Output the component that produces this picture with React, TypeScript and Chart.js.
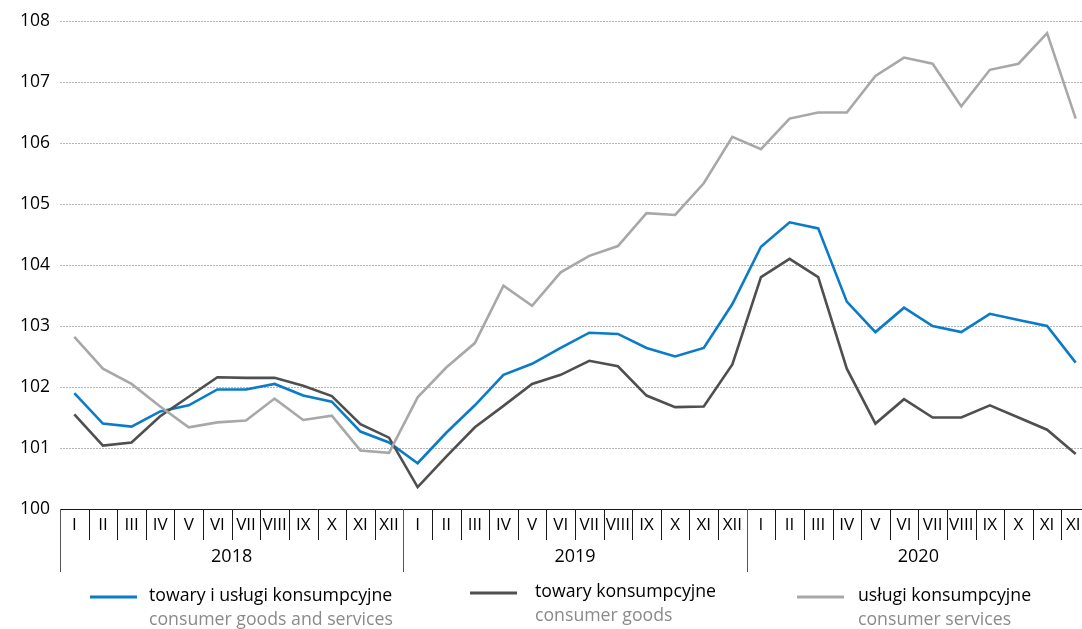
import React, { useEffect, useRef } from "react";
import { Chart, registerables } from "chart.js";

Chart.register(...registerables);

const months = ["I", "II", "III", "IV", "V", "VI", "VII", "VIII", "IX", "X", "XI", "XII"];
const years = ["2018", "2019", "2020"];
const categories = years.flatMap((y) => months.map((m) => `${m} ${y}`));

const goodsAndServices = [
  101.9, 101.4, 101.35, 101.6, 101.7, 101.96, 101.96, 102.05, 101.86, 101.76, 101.27, 101.09,
  100.75, 101.25, 101.7, 102.2, 102.38, 102.64, 102.89, 102.87, 102.64, 102.5, 102.64, 103.36,
  104.3, 104.7, 104.6, 103.4, 102.9, 103.3, 103.0, 102.9, 103.2, 103.1, 103.0, 102.4,
];
const goods = [
  101.55, 101.04, 101.09, 101.52, 101.84, 102.16, 102.15, 102.15, 102.02, 101.85, 101.39, 101.17,
  100.36, 100.86, 101.34, 101.69, 102.05, 102.2, 102.43, 102.34, 101.86, 101.67, 101.68, 102.37,
  103.8, 104.1, 103.8, 102.3, 101.4, 101.8, 101.5, 101.5, 101.7, 101.5, 101.3, 100.9,
];
const services = [
  102.82, 102.3, 102.05, 101.68, 101.34, 101.42, 101.45, 101.81, 101.46, 101.53, 100.96, 100.92,
  101.83, 102.32, 102.72, 103.66, 103.33, 103.88, 104.15, 104.31, 104.85, 104.82, 105.34, 106.1,
  105.9, 106.4, 106.5, 106.5, 107.1, 107.4, 107.3, 106.6, 107.2, 107.3, 107.8, 106.4,
];

const seriesLabelsPl = ["towary i usługi konsumpcyjne", "towary konsumpcyjne", "usługi konsumpcyjne"];
const seriesLabelsEn = ["consumer goods and services", "consumer goods", "consumer services"];
const seriesColors = ["#0a7bc8", "#4f4f4f", "#a8a8a8"];

const FONT = "'Open Sans', 'Noto Sans', sans-serif";

const axisPlugin = {
  id: "customAxis",
  afterDraw(chart: any) {
    const ctx = chart.ctx;
    const x = chart.scales.x;
    const ca = chart.chartArea;
    const n = categories.length;
    const w = x.getPixelForValue(1) - x.getPixelForValue(0);
    ctx.save();
    // axis line
    ctx.strokeStyle = "#1a1a1a";
    ctx.lineWidth = 1;
    ctx.beginPath();
    ctx.moveTo(ca.left, ca.bottom + 0.5);
    ctx.lineTo(ca.right, ca.bottom + 0.5);
    ctx.stroke();
    // separators
    for (let i = 0; i <= n; i++) {
      const bx = Math.round(x.getPixelForValue(Math.min(i, n - 1)) + (i === n ? w / 2 : -w / 2)) + 0.5;
      const len = i % 12 === 0 ? 63 : 31;
      ctx.strokeStyle = i % 12 === 0 ? "#555" : "#1a1a1a";
      ctx.beginPath();
      ctx.moveTo(bx, ca.bottom);
      ctx.lineTo(bx, ca.bottom + len);
      ctx.stroke();
    }
    // month labels
    ctx.fillStyle = "#000";
    ctx.font = `17px ${FONT}`;
    ctx.textAlign = "center";
    ctx.textBaseline = "middle";
    for (let i = 0; i < n; i++) {
      ctx.fillText(months[i % 12], x.getPixelForValue(i), ca.bottom + 16);
    }
    // year labels
    ctx.font = `18px ${FONT}`;
    years.forEach((yr, k) => {
      const start = x.getPixelForValue(k * 12) - w / 2;
      const end = x.getPixelForValue(k * 12 + 11) + w / 2;
      ctx.fillText(yr, (start + end) / 2, ca.bottom + 48);
    });
    // legend
    const entries = [
      { lx: 90, tx: 149, y: 597 },
      { lx: 470, tx: 535, y: 593 },
      { lx: 797, tx: 858, y: 597 },
    ];
    entries.forEach((e, k) => {
      ctx.strokeStyle = seriesColors[k];
      ctx.lineWidth = 3;
      ctx.beginPath();
      ctx.moveTo(e.lx, e.y);
      ctx.lineTo(e.lx + 47, e.y);
      ctx.stroke();
      ctx.textAlign = "left";
      ctx.fillStyle = "#000";
      ctx.font = `17.7px ${FONT}`;
      ctx.fillText(seriesLabelsPl[k], e.tx, e.y - 1);
      ctx.fillStyle = "#8a8a8a";
      ctx.fillText(seriesLabelsEn[k], e.tx, e.y + 23);
    });
    ctx.restore();
  },
};

export default function App() {
  const ref = useRef<HTMLCanvasElement | null>(null);
  useEffect(() => {
    if (!ref.current) return;
    const chart = new Chart(ref.current, {
      type: "line",
      data: {
        labels: categories,
        datasets: [
          { label: seriesLabelsPl[2], data: services, borderColor: seriesColors[2] },
          { label: seriesLabelsPl[1], data: goods, borderColor: seriesColors[1] },
          { label: seriesLabelsPl[0], data: goodsAndServices, borderColor: seriesColors[0] },
        ].map((d) => ({ ...d, borderWidth: 2.6, pointRadius: 0, tension: 0, fill: false })),
      },
      options: {
        responsive: false,
        animation: false,
        layout: { padding: { top: 21, right: 0, left: 0, bottom: 0 } },
        plugins: { legend: { display: false }, tooltip: { enabled: false } },
        scales: {
          x: {
            offset: true,
            grid: { display: false },
            border: { display: false },
            ticks: { display: false },
            afterFit: (s: any) => {
              s.height = 120;
            },
          },
          y: {
            min: 100,
            max: 108,
            ticks: {
              stepSize: 1,
              color: "#000",
              padding: 10,
              font: { family: FONT, size: 17.5 },
            },
            grid: { color: "#b5b5b5", lineWidth: 1, drawTicks: false },
            border: { display: false, dash: [2, 1] },
            afterFit: (s: any) => {
              s.width = 60;
            },
          },
        },
      },
      plugins: [axisPlugin],
    } as any);
    return () => chart.destroy();
  }, []);
  return (
    <div style={{ position: "fixed", left: 0, top: 0, width: 1082, height: 629, overflow: "hidden", background: "#fff" }}>
      <canvas ref={ref} width={1090} height={629} style={{ display: "block" }} />
    </div>
  );
}
